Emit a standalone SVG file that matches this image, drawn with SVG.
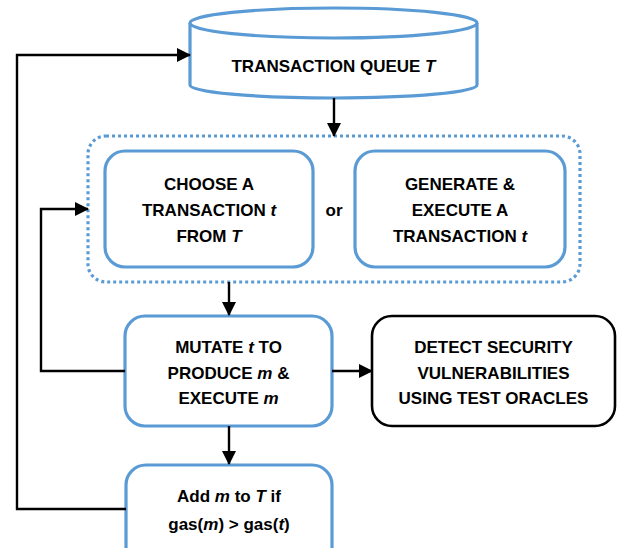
<svg xmlns="http://www.w3.org/2000/svg" width="619" height="548" viewBox="0 0 619 548">
<defs>
<marker id="ah" markerUnits="userSpaceOnUse" markerWidth="14" markerHeight="14" viewBox="0 0 14 14" refX="13" refY="7" orient="auto">
<path d="M0,0 L14,7 L0,14 Z" fill="#000"/>
</marker>
<style>
.blue{fill:#fff;stroke:#5B9BD5;stroke-width:3.2}
.blk{fill:#fff;stroke:#000;stroke-width:2.6}
.dot{fill:none;stroke:#5B9BD5;stroke-width:3.2;stroke-dasharray:3 3}
.t{font-family:"Liberation Sans",Arial,sans-serif;font-weight:bold;font-size:17px;fill:#000;text-anchor:middle}
.i{font-style:italic}
.c{fill:none;stroke:#000;stroke-width:2.4}
</style>
</defs>
<rect width="619" height="548" fill="#fff"/>
<g id="queue">
<path class="blue" d="M190,23 L190,85 A143.5,13 0 0 0 477,85 L477,23"/>
<ellipse class="blue" cx="333.5" cy="23" rx="143.5" ry="15"/>
<text class="t" x="333.5" y="72">TRANSACTION QUEUE <tspan class="i">T</tspan></text>
</g>
<g id="group">
<rect class="dot" x="88" y="136" width="492" height="146" rx="18"/>
<text class="t" x="334" y="216">or</text>
</g>
<g id="choose">
<rect class="blue" x="105" y="151" width="208" height="116" rx="20"/>
<text class="t" x="209" y="190">CHOOSE A</text>
<text class="t" x="209" y="216">TRANSACTION <tspan class="i">t</tspan></text>
<text class="t" x="209" y="242">FROM <tspan class="i">T</tspan></text>
</g>
<g id="generate">
<rect class="blue" x="355" y="151" width="210" height="116" rx="20"/>
<text class="t" x="460" y="190">GENERATE &amp;</text>
<text class="t" x="460" y="216">EXECUTE A</text>
<text class="t" x="460" y="242">TRANSACTION <tspan class="i">t</tspan></text>
</g>
<g id="mutate">
<rect class="blue" x="125" y="316" width="207" height="110" rx="20"/>
<text class="t" x="228.5" y="353">MUTATE <tspan class="i">t</tspan> TO</text>
<text class="t" x="228.5" y="379">PRODUCE <tspan class="i">m</tspan> &amp;</text>
<text class="t" x="228.5" y="404">EXECUTE <tspan class="i">m</tspan></text>
</g>
<g id="detect">
<rect class="blk" x="372" y="316" width="243" height="110" rx="20"/>
<text class="t" x="493.5" y="353">DETECT SECURITY</text>
<text class="t" x="493.5" y="379">VULNERABILITIES</text>
<text class="t" x="493.5" y="404">USING TEST ORACLES</text>
</g>
<g id="add">
<rect class="blue" x="126" y="465" width="206" height="110" rx="20"/>
<text class="t" x="229" y="502">Add <tspan class="i">m</tspan> to <tspan class="i">T</tspan> if</text>
<text class="t" x="229" y="530">gas(<tspan class="i">m</tspan>) &gt; gas(<tspan class="i">t</tspan>)</text>
</g>
<g id="connectors">
<line class="c" x1="334" y1="98" x2="334" y2="136" marker-end="url(#ah)"/>
<line class="c" x1="229" y1="282" x2="229" y2="315" marker-end="url(#ah)"/>
<line class="c" x1="332" y1="371" x2="372" y2="371" marker-end="url(#ah)"/>
<line class="c" x1="229" y1="426" x2="229" y2="464" marker-end="url(#ah)"/>
<polyline class="c" points="125,371 41,371 41,209 88,209" marker-end="url(#ah)"/>
<polyline class="c" points="126,509 17,509 17,55 190,55" marker-end="url(#ah)"/>
</g>
</svg>
